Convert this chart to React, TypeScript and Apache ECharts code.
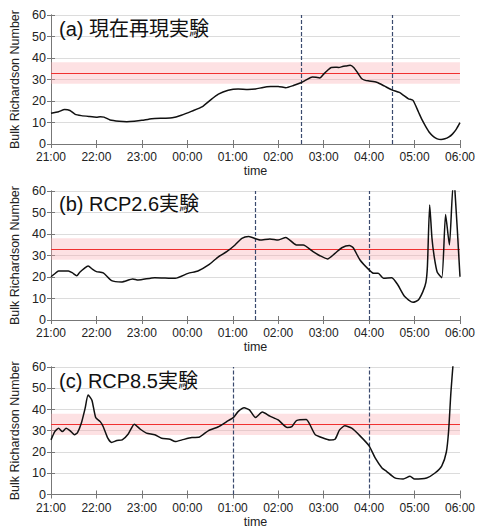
import React, { useEffect, useRef } from "react";
import * as echarts from "echarts";

// minutes after 21:00 on x axis
const TICK_LABELS = ["21:00", "22:00", "23:00", "00:00", "01:00", "02:00", "03:00", "04:00", "05:00", "06:00"];

const TITLES = ["(a) 現在再現実験", "(b) RCP2.6実験", "(c) RCP8.5実験"];

const T_A = [0, 10, 18, 25, 32, 40, 50, 60, 65, 70, 78, 90, 100, 110, 120, 133, 150, 160, 172, 186, 200, 210, 221, 234, 247, 260, 270, 280, 290, 300, 310, 320, 330, 337, 345, 350, 355, 360, 365, 370, 375, 380, 385, 390, 395, 400, 405, 410, 415, 420, 430, 440, 450, 460, 466, 472, 478, 485, 490, 495, 500, 505, 510, 515, 520, 525, 530, 535, 540];
const V_A = [14.3, 15.0, 16.0, 15.6, 13.8, 13.2, 12.8, 12.5, 12.7, 12.5, 11.2, 10.6, 10.4, 10.6, 11.0, 11.8, 12.0, 12.2, 13.4, 15.3, 17.4, 20.3, 23.2, 25.0, 25.6, 25.4, 25.6, 26.3, 26.7, 26.8, 26.2, 27.2, 28.5, 29.8, 31.2, 31.0, 30.7, 32.5, 34.2, 35.6, 35.7, 35.6, 36.0, 36.3, 36.6, 35.5, 33.0, 30.5, 29.6, 29.3, 28.7, 27.0, 25.2, 24.0, 22.5, 21.0, 20.3, 15.0, 11.2, 8.0, 5.2, 3.4, 2.4, 2.1, 2.4, 3.2, 4.6, 6.8, 9.9];

const T_B = [0, 5, 10, 23, 28, 34, 38, 44, 49, 55, 60, 69, 80, 93, 108, 115, 137, 164, 181, 194, 208, 221, 232, 243, 252, 261, 276, 289, 300, 310, 324, 333, 346, 355, 365, 375, 384, 394, 399, 408, 420, 426, 432, 439, 450, 458, 467, 478, 485, 491, 495, 497, 500, 503, 506, 510, 516, 521, 526, 531, 533, 540];
const V_B = [20.1, 21.5, 22.8, 22.8, 22.0, 20.6, 22.2, 24.0, 25.1, 23.5, 22.5, 21.9, 18.3, 17.7, 19.1, 18.6, 19.7, 19.4, 21.7, 22.8, 25.6, 29.4, 31.8, 34.9, 38.0, 38.8, 37.2, 37.7, 37.2, 38.4, 34.9, 34.9, 31.8, 29.9, 28.4, 31.0, 33.6, 34.6, 33.6, 27.9, 23.3, 21.7, 21.7, 19.4, 19.7, 16.3, 10.9, 8.2, 9.3, 13.2, 17.5, 25.0, 53.5, 38.0, 29.4, 22.2, 19.7, 49.1, 34.9, 63.0, 62.0, 20.1];

const T_C = [0, 5, 10, 15, 20, 25, 31, 35, 40, 45, 49, 54, 59, 65, 69, 75, 80, 87, 94, 102, 110, 118, 126, 137, 146, 157, 164, 173, 186, 195, 208, 221, 232, 241, 247, 255, 262, 270, 279, 289, 300, 312, 318, 324, 337, 341, 349, 360, 368, 375, 381, 388, 397, 408, 420, 428, 437, 443, 454, 465, 474, 480, 496, 507, 516, 522, 525, 528, 531];
const V_C = [25.7, 29.6, 31.2, 29.6, 31.2, 30.1, 28.1, 29.1, 33.5, 40.5, 46.8, 44.4, 36.2, 34.3, 31.9, 26.5, 24.5, 25.4, 25.7, 28.5, 33.1, 30.7, 28.9, 28.1, 26.5, 26.0, 24.9, 25.7, 26.8, 26.9, 30.1, 31.9, 34.3, 36.3, 39.0, 40.8, 39.8, 36.2, 38.8, 36.9, 35.1, 31.5, 31.9, 34.8, 35.3, 33.5, 28.1, 26.5, 25.7, 26.0, 30.4, 32.3, 31.2, 27.6, 22.9, 17.2, 12.5, 10.9, 7.8, 7.3, 8.6, 7.3, 7.8, 10.1, 13.5, 20.0, 30.0, 48.0, 62.0];

// vertical dashed markers (minutes after 21:00)
const MARKS_A = [330, 450];
const MARKS_B = [270, 420];
const MARKS_C = [240, 420];

const BAND_LOW = 28;
const BAND_HIGH = 38;
const REF_LINE = 33;

const FONT = "'Liberation Sans', Arial, 'Noto Sans CJK JP', sans-serif";

export default function App() {
  const ref = useRef<HTMLDivElement>(null);

  useEffect(() => {
    if (!ref.current) return;
    const chart = echarts.init(ref.current, null, { renderer: "svg" });

    const panels = [
      { t: T_A, v: V_A, marks: MARKS_A },
      { t: T_B, v: V_B, marks: MARKS_B },
      { t: T_C, v: V_C, marks: MARKS_C },
    ];
    const tops = [15, 191, 367];
    const heights = [129, 129, 128];
    const axisColor = "#777";
    const textColor = "#222";

    const grids = tops.map((top, i) => ({ left: 51, top, width: 409, height: heights[i] }));

    const xAxes: any[] = [];
    const yAxes: any[] = [];
    panels.forEach((_, i) => {
      xAxes.push({
        type: "value",
        gridIndex: i,
        min: 0,
        max: 540,
        interval: 60,
        position: "bottom",
        name: "time",
        nameLocation: "middle",
        nameGap: 21,
        nameTextStyle: { fontFamily: FONT, fontSize: 12.5, color: textColor },
        axisLine: { show: true, lineStyle: { color: axisColor, width: 1 } },
        axisTick: { show: true, inside: true, length: 4, lineStyle: { color: axisColor } },
        axisLabel: {
          fontFamily: FONT,
          fontSize: 12,
          lineHeight: 12,
          color: textColor,
          margin: 7,
          formatter: (val: number) => TICK_LABELS[Math.round(val / 60)] ?? "",
        },
        splitLine: { show: false },
      });
    });
    panels.forEach((_, i) => {
      xAxes.push({
        type: "value",
        gridIndex: i,
        min: 0,
        max: 540,
        interval: 60,
        position: "top",
        axisLine: { show: true, lineStyle: { color: axisColor, width: 1 } },
        axisTick: { show: true, inside: true, length: 4, lineStyle: { color: axisColor } },
        axisLabel: { show: false },
        splitLine: { show: false },
      });
    });
    panels.forEach((_, i) => {
      yAxes.push({
        type: "value",
        gridIndex: i,
        min: 0,
        max: 60,
        interval: 10,
        position: "left",
        name: "Bulk Richardson Number",
        nameLocation: "middle",
        nameGap: 27,
        nameTextStyle: { fontFamily: FONT, fontSize: 12.5, color: textColor },
        axisLine: { show: true, lineStyle: { color: axisColor, width: 1 } },
        axisTick: { show: true, inside: true, length: 4, lineStyle: { color: axisColor } },
        axisLabel: { fontFamily: FONT, fontSize: 12.5, lineHeight: 11, color: textColor, margin: 5 },
        splitLine: { show: true, lineStyle: { color: "#dcdcdc", width: 1 } },
      });
    });
    panels.forEach((_, i) => {
      yAxes.push({
        type: "value",
        gridIndex: i,
        min: 0,
        max: 60,
        interval: 10,
        position: "right",
        axisLine: { show: true, lineStyle: { color: axisColor, width: 1 } },
        axisTick: { show: true, inside: true, length: 4, lineStyle: { color: axisColor } },
        axisLabel: { show: false },
        splitLine: { show: false },
      });
    });

    const series: any[] = [];
    panels.forEach((p, i) => {
      const data = p.t.map((m, k) => [m, p.v[k]]);
      series.push({
        type: "line",
        xAxisIndex: i,
        yAxisIndex: i,
        data: [],
        z: 1,
        silent: true,
        markArea: {
          silent: true,
          itemStyle: { color: "rgba(250, 170, 175, 0.35)" },
          data: [[{ yAxis: BAND_LOW }, { yAxis: BAND_HIGH }]],
        },
        markLine: {
          silent: true,
          symbol: "none",
          label: { show: false },
          lineStyle: { color: "#f03030", width: 1, type: "solid" },
          data: [{ yAxis: REF_LINE }],
        },
      });
      series.push({
        type: "line",
        xAxisIndex: i,
        yAxisIndex: i,
        data: [],
        z: 2,
        silent: true,
        markLine: {
          silent: true,
          symbol: "none",
          label: { show: false },
          lineStyle: { color: "#3a4a6e", width: 1.2, type: [4, 2] },
          data: p.marks.map((m) => ({ xAxis: m })),
        },
      });
      series.push({
        type: "line",
        xAxisIndex: i,
        yAxisIndex: i,
        data,
        z: 5,
        showSymbol: false,
        smooth: 0.2,
        clip: true,
        lineStyle: { color: "#111", width: 1.5 },
      });
    });

    const titleTops = [19, 194, 371];
    chart.setOption({
      animation: false,
      title: TITLES.map((t, i) => ({
        text: t,
        left: 59,
        top: titleTops[i],
        padding: 0,
        textStyle: { fontFamily: FONT, fontSize: 20, fontWeight: "normal", color: "#111" },
      })),
      grid: grids,
      xAxis: xAxes,
      yAxis: yAxes,
      series,
    });

    return () => chart.dispose();
  }, []);

  return (
    <div
      ref={ref}
      style={{ position: "absolute", left: 0, top: 0, width: 478, height: 529, background: "#fff" }}
    />
  );
}
